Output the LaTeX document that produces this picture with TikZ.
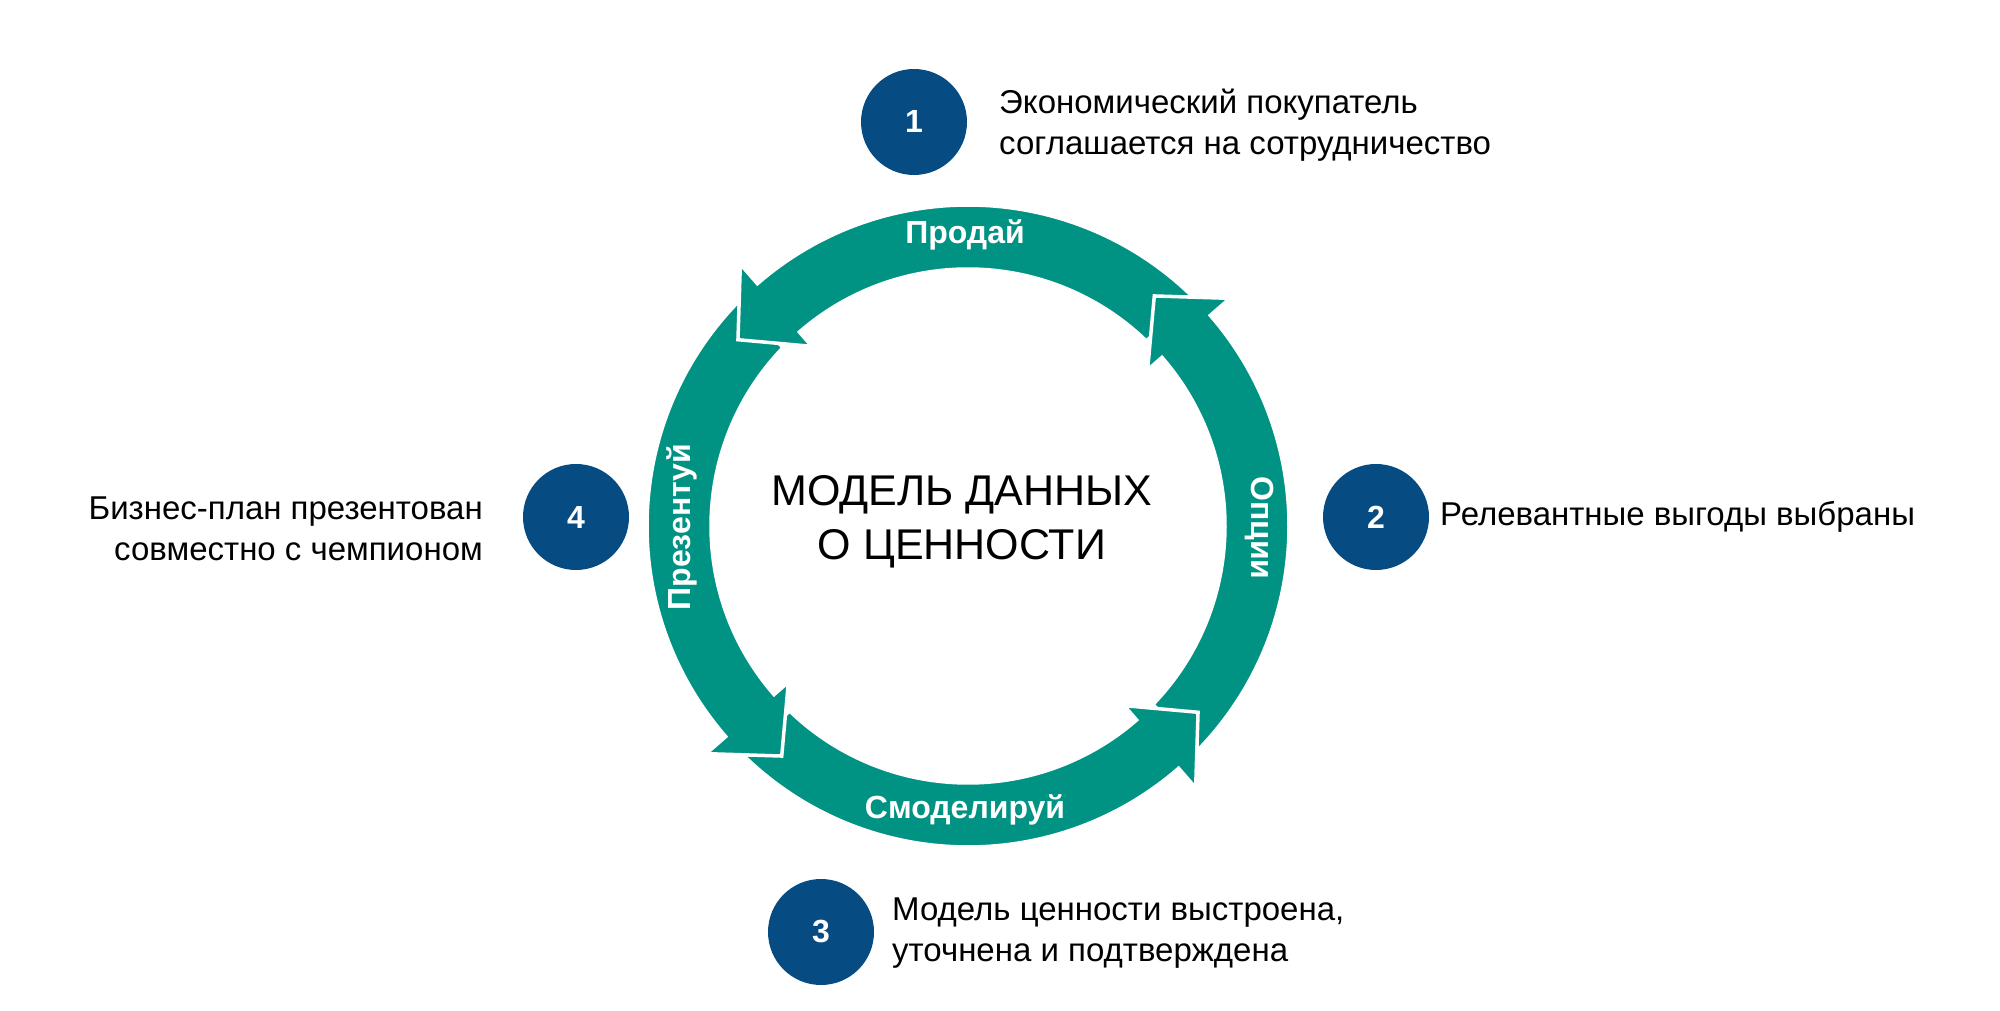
\documentclass[tikz,border=0pt]{standalone}
\usepackage{fontspec}
\setmainfont{Liberation Sans}
\definecolor{teal1}{RGB}{0,146,131}
\definecolor{navy1}{RGB}{6,76,130}
\tikzset{
  arrowshape/.style={fill=teal1, draw=white, line width=3.5pt},
  numcircle/.style={circle, fill=navy1, minimum size=106pt, inner sep=0pt, text=white, font=\fontsize{32}{38}\selectfont\bfseries},
  desc/.style={font=\fontsize{33}{41}\selectfont, inner sep=0pt},
  bandlabel/.style={text=white, font=\fontsize{32}{38}\selectfont\bfseries, inner sep=0pt},
  titletext/.style={align=center, font=\fontsize{43}{54}\selectfont, inner sep=0pt},
}
\newcommand{\ringarrow}[1]{%
  \path[arrowshape] (#1+46:321pt) arc[start angle=#1+46, end angle=#1+131, radius=321pt]
   -- (#1+131:347pt) -- (#1+141:296pt) -- (#1+131:238pt) -- (#1+131:257pt)
   arc[start angle=#1+131, end angle=#1+46, radius=257pt] -- cycle;}
\begin{document}
\begin{tikzpicture}
\useasboundingbox (0,0) rectangle (2000pt,1010pt);
\fill[white] (0,0) rectangle (2000pt,1010pt);
\begin{scope}[shift={(968pt,484pt)}]
 \ringarrow{90}
 \ringarrow{0}
 \ringarrow{270}
 \ringarrow{180}
 \begin{scope}
  \clip (-400pt,-400pt) rectangle (0pt,0pt);
  \ringarrow{90}
 \end{scope}
\end{scope}
\node[bandlabel] (lsell) at (965pt,775pt) {Продай};
\node[bandlabel] (lmodel) at (965pt,200pt) {Смоделируй};
\node[bandlabel, rotate=90] (lpres) at (682pt,483pt) {Презентуй};
\node[bandlabel, rotate=-90] (lopt) at (1259pt,482pt) {Опции};
\node[titletext] (title) at (962pt,488pt) {МОДЕЛЬ ДАННЫХ\\О ЦЕННОСТИ};
\node[numcircle] (n1) at (914pt,888pt) {1};
\node[numcircle] (n2) at (1376pt,493pt) {2};
\node[numcircle] (n3) at (821pt,78pt) {3};
\node[numcircle] (n4) at (576pt,493pt) {4};
\node[desc, anchor=west, align=left] (t1) at (999pt,885pt) {Экономический покупатель\\соглашается на сотрудничество};
\node[desc, anchor=west] (t2) at (1440pt,493pt) {Релевантные выгоды выбраны};
\node[desc, anchor=west, align=left] (t3) at (892pt,77pt) {Модель ценности выстроена,\\уточнена и подтверждена};
\node[desc, anchor=east, align=right] (t4) at (483pt,481pt) {Бизнес-план презентован\\совместно с чемпионом};
\end{tikzpicture}
\end{document}
